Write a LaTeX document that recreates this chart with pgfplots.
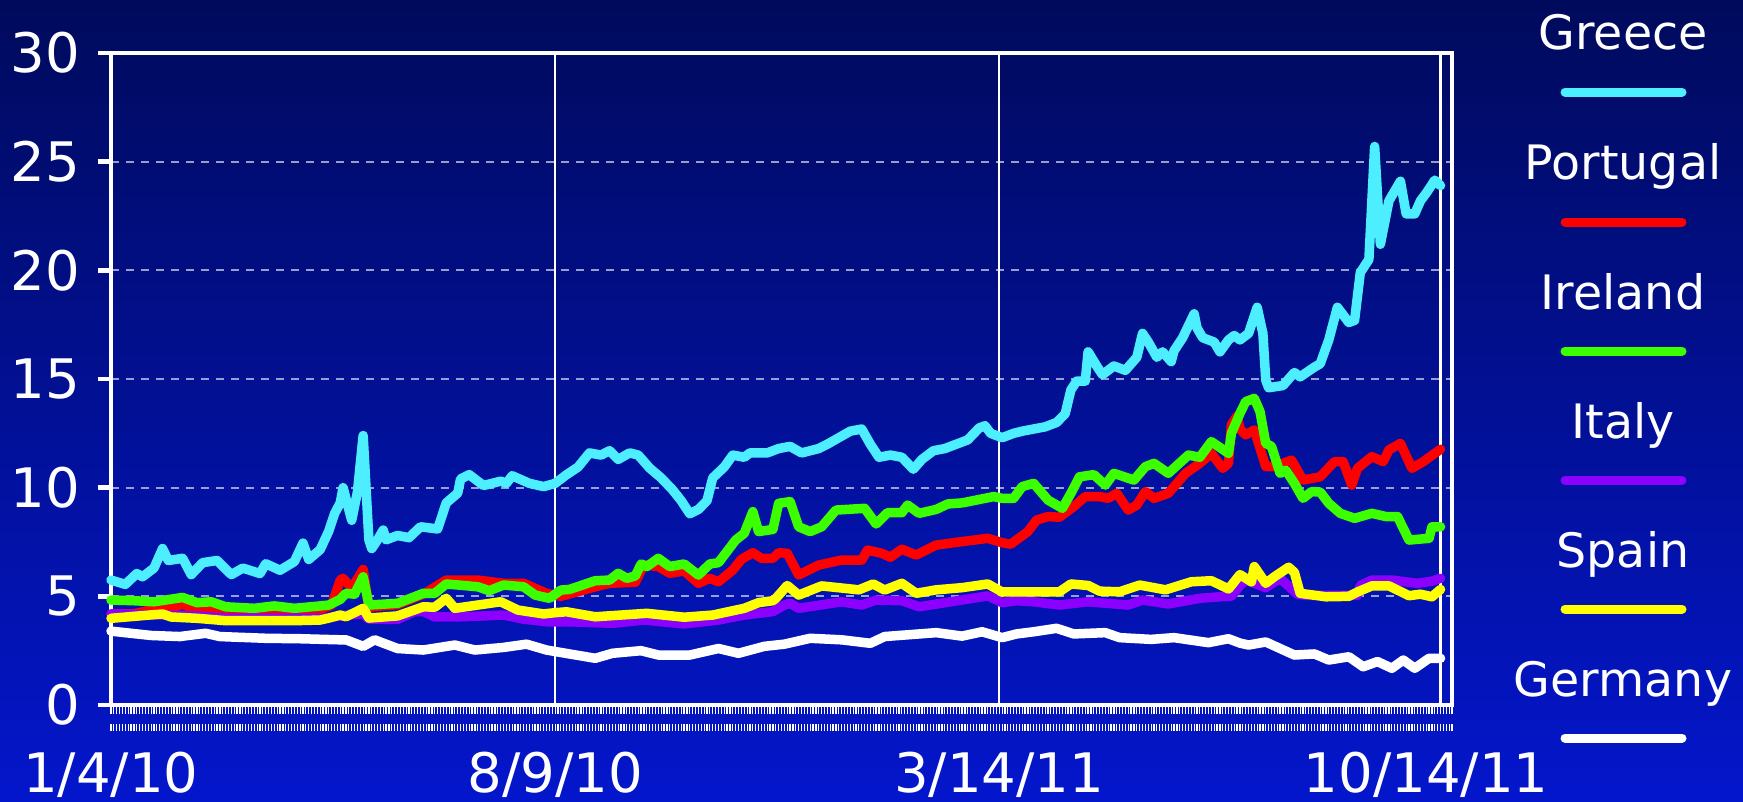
\documentclass[border=0pt]{standalone}
\usepackage{fontspec}
\setmainfont{DejaVu Sans}
\usepackage{pgfplots}
\pgfplotsset{compat=1.18}
\definecolor{bgtop}{RGB}{0,10,92}
\definecolor{bgbot}{RGB}{4,22,204}
\definecolor{greece}{RGB}{77,238,255}
\definecolor{portugal}{RGB}{255,0,0}
\definecolor{ireland}{RGB}{60,255,0}
\definecolor{italy}{RGB}{140,0,255}
\definecolor{spain}{RGB}{255,255,0}
\definecolor{germany}{RGB}{255,255,255}
\begin{document}
\begin{tikzpicture}
\shade[top color=bgtop, bottom color=bgbot] (0,0) rectangle (174.3mm,80.1mm);
\begin{axis}[
  at={(11.1mm,9.6mm)}, anchor=south west,
  width=134.1mm, height=65.2mm, scale only axis,
  xmin=0, xmax=468, ymin=0, ymax=30,
  ytick={0,5,...,30},
  xtick={0,155,310,464},
  xticklabels={1/4/10,8/9/10,3/14/11,\hspace*{-2.9mm}10/14/11},
  minor xtick={0,1,...,468},
  tick align=outside,
  xtick pos=left, ytick pos=left,
  axis line style={white, line width=1.3pt},
  major tick length=1.3mm,
  minor tick length=2.9mm,
  every major tick/.append style={white, line width=1.3pt},
  every major x tick/.append style={draw=none},
  every minor tick/.append style={white, line width=0.35pt, dash pattern=on 0.7mm off 1.0mm on 0.9mm off 0.3mm, dash phase=2.6mm},
  xmajorgrids=true, ymajorgrids=true,
  major y grid style={white, opacity=0.6, line width=0.6pt, dash pattern=on 0.8mm off 0.7mm},
  major x grid style={white, line width=0.6pt},
  tick label style={font=\fontsize{15.5}{18}\selectfont, text=white, inner sep=0pt},
  /pgf/number format/assume math mode=true,
  xticklabel style={anchor=center, yshift=-5.7mm},
  yticklabel style={anchor=east, xshift=-1.7mm},
  clip=false,
]
\addplot[color=greece, line width=0.95mm, line join=round, line cap=round] coordinates {(0,5.75)(5,5.55)(9,6.05)(11,5.9)(15,6.3)(18,7.2)(20,6.65)(25,6.75)(28,6.0)(32,6.55)(37,6.65)(42,6.0)(46,6.3)(52,6.05)(54,6.5)(59,6.2)(64,6.6)(67,7.45)(69,6.7)(73,7.15)(76,8.0)(78,8.8)(80,9.3)(81,10.0)(83,9.0)(84,8.5)(86,9.8)(88,12.4)(90,7.6)(91,7.2)(93,7.6)(95,8.05)(96,7.6)(100,7.8)(104,7.7)(108,8.2)(114,8.1)(117,9.3)(121,9.75)(122,10.4)(125,10.6)(130,10.1)(136,10.3)(138,10.2)(140,10.55)(146,10.2)(151,10.05)(155,10.2)(159,10.6)(163,10.95)(167,11.6)(171,11.5)(174,11.7)(177,11.3)(181,11.6)(184,11.5)(188,10.9)(192,10.45)(196,9.9)(199,9.4)(202,8.8)(205,9.0)(208,9.4)(210,10.45)(214,10.95)(217,11.5)(221,11.4)(223,11.6)(229,11.6)(233,11.8)(237,11.9)(241,11.6)(247,11.8)(250,12.0)(254,12.3)(258,12.6)(262,12.7)(265,12.0)(268,11.4)(272,11.5)(276,11.4)(280,10.85)(283,11.3)(287,11.7)(291,11.8)(295,12.0)(299,12.2)(303,12.75)(305,12.85)(307,12.5)(311,12.3)(315,12.5)(318,12.6)(322,12.7)(326,12.8)(330,13.0)(333,13.4)(335,14.5)(337,14.9)(340,14.9)(341,16.25)(344,15.6)(346,15.2)(350,15.6)(354,15.4)(358,16.0)(360,17.1)(362,16.7)(365,16.0)(367,16.25)(370,15.8)(371,16.3)(374,16.9)(378,18.0)(379,17.35)(381,16.9)(385,16.7)(387,16.25)(390,16.8)(392,17.0)(394,16.8)(397,17.1)(400,18.3)(402,17.1)(403,14.95)(404,14.6)(409,14.7)(413,15.3)(415,15.1)(420,15.55)(422,15.7)(425,16.8)(428,18.3)(432,17.6)(434,17.7)(436,19.9)(439,20.5)(441,25.7)(443,21.2)(446,23.2)(450,24.1)(452,22.6)(455,22.6)(457,23.2)(459,23.55)(462,24.15)(464,23.9)};
\addplot[color=portugal, line width=0.95mm, line join=round, line cap=round] coordinates {(0,4.19)(8,4.2)(14,4.37)(18,4.52)(21,4.45)(25,4.65)(28,4.45)(35,4.37)(42,4.22)(50,4.22)(58,4.29)(64,4.25)(72,4.34)(77,4.6)(80,5.75)(81,5.83)(84,5.37)(88,6.24)(90,4.5)(100,4.62)(109,5.1)(117,5.75)(128,5.75)(137,5.6)(144,5.6)(152,5.14)(157,5.0)(169,5.44)(174,5.6)(183,5.65)(186,6.45)(191,6.37)(195,6.06)(200,6.17)(205,5.6)(209,5.83)(212,5.67)(217,6.21)(220,6.7)(224,7.01)(227,6.75)(231,6.75)(233,7.01)(236,6.98)(240,5.98)(247,6.44)(255,6.67)(262,6.67)(264,7.13)(269,6.98)(272,6.8)(276,7.17)(281,6.9)(288,7.36)(297,7.52)(306,7.67)(311,7.47)(314,7.4)(320,7.98)(323,8.51)(327,8.67)(331,8.64)(336,9.13)(340,9.59)(345,9.59)(348,9.51)(351,9.74)(355,8.97)(358,9.2)(361,9.82)(364,9.51)(369,9.74)(375,10.66)(380,11.12)(384,11.58)(388,10.89)(390,11.12)(391,12.9)(393,13.3)(394,12.7)(396,12.43)(399,12.66)(403,10.97)(406,10.97)(412,11.27)(416,10.35)(422,10.5)(427,11.2)(430,11.2)(433,10.12)(435,10.89)(440,11.43)(444,11.2)(446,11.74)(450,12.04)(454,10.89)(458,11.2)(462,11.58)(464,11.77)};
\addplot[color=ireland, line width=0.95mm, line join=round, line cap=round] coordinates {(0,4.83)(8,4.8)(15,4.75)(25,4.95)(30,4.71)(35,4.75)(40,4.52)(50,4.45)(57,4.56)(64,4.45)(73,4.56)(76,4.6)(80,4.86)(82,5.14)(85,5.1)(88,5.9)(90,4.6)(100,4.68)(109,5.14)(113,5.14)(117,5.57)(128,5.44)(132,5.26)(137,5.52)(144,5.44)(148,5.06)(153,4.91)(157,5.29)(160,5.32)(169,5.72)(174,5.75)(177,6.06)(180,5.83)(183,5.94)(185,6.49)(187,6.37)(191,6.75)(195,6.37)(200,6.49)(205,5.98)(209,6.49)(212,6.55)(218,7.59)(221,7.9)(224,8.9)(226,7.98)(231,8.08)(233,9.28)(237,9.36)(240,8.2)(244,7.98)(248,8.2)(253,8.97)(263,9.05)(267,8.33)(271,8.85)(276,8.85)(278,9.2)(282,8.82)(288,9.0)(292,9.25)(297,9.3)(302,9.43)(308,9.59)(311,9.51)(315,9.51)(318,10.05)(322,10.2)(327,9.43)(332,9.05)(335,9.74)(338,10.5)(343,10.6)(347,10.12)(350,10.66)(357,10.35)(361,10.97)(364,11.12)(369,10.66)(376,11.5)(380,11.4)(384,12.12)(390,11.58)(391,12.5)(394,13.42)(396,13.96)(399,14.11)(401,13.5)(403,12.04)(405,11.9)(408,10.66)(410,10.8)(413,10.2)(416,9.51)(419,9.82)(422,9.8)(425,9.28)(429,8.82)(434,8.59)(440,8.82)(445,8.67)(449,8.67)(453,7.59)(460,7.67)(461,8.2)(464,8.2)};
\addplot[color=italy, line width=0.95mm, line join=round, line cap=round] coordinates {(0,4.19)(15,4.15)(30,4.1)(40,4.0)(60,4.0)(75,4.0)(80,4.1)(88,4.2)(90,3.95)(100,3.94)(106,4.3)(109,4.3)(113,4.05)(120,4.05)(130,4.1)(137,4.14)(144,3.95)(152,3.83)(160,3.83)(175,3.76)(186,3.91)(200,3.73)(212,3.91)(221,4.14)(231,4.3)(235,4.6)(237,4.68)(240,4.45)(255,4.75)(262,4.6)(267,4.83)(276,4.8)(282,4.52)(293,4.75)(306,5.02)(311,4.71)(316,4.8)(322,4.75)(331,4.6)(341,4.75)(355,4.6)(360,4.83)(369,4.65)(380,4.91)(387,4.98)(391,5.0)(394,5.5)(396,5.75)(403,5.4)(408,5.83)(414,5.1)(417,5.05)(435,5.05)(436,5.5)(440,5.75)(447,5.75)(456,5.6)(461,5.7)(464,5.83)};
\addplot[color=spain, line width=0.95mm, line join=round, line cap=round] coordinates {(0,3.99)(18,4.19)(21,4.05)(30,3.99)(40,3.88)(50,3.88)(64,3.88)(73,3.91)(76,4.0)(80,4.14)(82,4.06)(88,4.45)(90,4.0)(100,4.1)(109,4.52)(113,4.5)(117,4.91)(120,4.45)(128,4.6)(136,4.75)(142,4.37)(151,4.19)(155,4.25)(159,4.29)(169,4.06)(187,4.22)(200,4.04)(210,4.14)(221,4.45)(226,4.71)(231,4.8)(232,4.9)(236,5.5)(240,5.06)(248,5.48)(261,5.3)(266,5.57)(270,5.29)(276,5.6)(281,5.14)(288,5.3)(297,5.4)(306,5.57)(311,5.2)(322,5.21)(331,5.21)(335,5.57)(341,5.5)(345,5.24)(352,5.21)(359,5.52)(368,5.3)(377,5.67)(384,5.72)(390,5.34)(394,6.0)(398,5.67)(399,6.37)(403,5.6)(406,5.9)(411,6.34)(413,6.1)(415,5.14)(424,4.98)(432,5.0)(435,5.2)(440,5.48)(446,5.48)(453,5.03)(457,5.1)(461,4.98)(464,5.32)};
\addplot[color=germany, line width=0.95mm, line join=round, line cap=round] coordinates {(0,3.4)(14,3.2)(24,3.15)(33,3.3)(38,3.15)(54,3.07)(66,3.05)(80,3.0)(82,3.0)(88,2.7)(92,3.0)(100,2.6)(109,2.53)(120,2.76)(127,2.53)(137,2.65)(145,2.8)(152,2.53)(160,2.35)(169,2.15)(175,2.38)(185,2.5)(191,2.3)(202,2.3)(212,2.6)(219,2.38)(228,2.7)(235,2.8)(244,3.07)(255,3.0)(265,2.84)(270,3.15)(282,3.27)(288,3.33)(297,3.17)(304,3.37)(311,3.1)(316,3.27)(322,3.37)(330,3.53)(336,3.27)(347,3.33)(352,3.1)(363,3.02)(371,3.1)(383,2.87)(390,3.05)(394,2.85)(397,2.76)(403,2.9)(413,2.3)(420,2.35)(425,2.07)(432,2.22)(437,1.76)(442,2.0)(447,1.69)(451,2.07)(455,1.69)(460,2.15)(464,2.15)};
\end{axis}
\foreach \name/\col/\ty/\ly in {Greece/greece/75.15/70.9, Portugal/portugal/62.15/57.9, Ireland/ireland/49.15/45.0, Italy/italy/36.25/32.1, Spain/spain/23.35/19.2, Germany/germany/10.45/6.3}{
  \node[anchor=base, text=white, font=\fontsize{13.5}{16}\selectfont, inner sep=0pt] at (162.3mm,\ty mm) {\name};
  \draw[\col, line width=0.9mm, line cap=round] (156.5mm,\ly mm) -- (168.2mm,\ly mm);
}
\end{tikzpicture}
\end{document}
